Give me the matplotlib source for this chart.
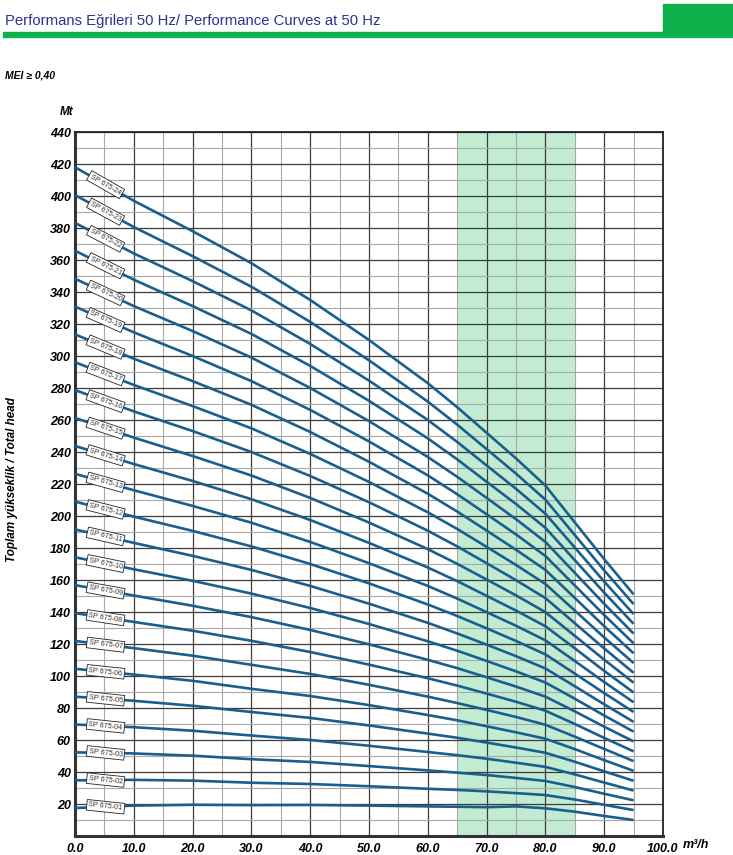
import numpy as np
import matplotlib
matplotlib.use("Agg")
import matplotlib.pyplot as plt
from matplotlib.patches import Rectangle

flow = [0, 10, 20, 30, 40, 50, 60, 65, 70, 75, 80, 85, 90, 95]

# total head (m) for each model, SP 675-01 ... SP 675-24
heads = {
    "01": [17.5, 19.0, 19.5, 19.3, 19.4, 19.0, 18.5, 18.3, 18.0, 18.5, 17.3, 15.2, 12.5, 10.0],
    "02": [34.8, 35.1, 34.6, 33.3, 32.5, 31.1, 29.5, 28.8, 27.9, 26.8, 25.6, 22.8, 19.5, 16.2],
    "03": [52.3, 51.6, 50.2, 48.0, 46.3, 43.7, 41.0, 39.6, 38.1, 36.3, 34.4, 30.6, 26.4, 22.3],
    "04": [69.7, 68.0, 65.8, 62.8, 60.0, 56.4, 52.5, 50.5, 48.3, 45.8, 43.2, 38.5, 33.4, 28.4],
    "05": [87.1, 84.5, 81.4, 77.5, 73.8, 69.1, 64.0, 61.4, 58.4, 55.3, 52.0, 46.4, 40.4, 34.5],
    "06": [104.5, 100.9, 97.0, 92.0, 87.5, 81.8, 75.6, 72.3, 68.6, 64.8, 60.8, 54.3, 47.4, 40.7],
    "07": [121.9, 117.4, 112.7, 107.0, 101.3, 94.5, 87.1, 83.1, 78.8, 74.4, 69.5, 62.1, 54.4, 46.8],
    "08": [139.3, 133.8, 128.3, 122.0, 115.0, 107.1, 98.6, 94.0, 89.0, 83.9, 78.3, 70.0, 61.3, 52.9],
    "09": [156.8, 150.3, 143.9, 136.8, 128.8, 119.8, 110.1, 104.9, 99.2, 93.4, 87.1, 77.9, 68.3, 59.1],
    "10": [174.2, 166.7, 159.5, 151.5, 142.5, 132.5, 121.7, 115.8, 109.4, 102.9, 95.9, 85.8, 75.3, 65.2],
    "11": [191.6, 183.2, 175.1, 166.3, 156.3, 145.2, 133.2, 126.6, 119.6, 112.4, 104.7, 93.6, 82.3, 71.3],
    "12": [209.0, 199.6, 190.7, 181.0, 170.0, 157.9, 144.7, 137.5, 129.8, 121.9, 113.5, 101.5, 89.3, 77.5],
    "13": [226.4, 216.1, 206.3, 195.8, 183.8, 170.5, 156.3, 148.4, 139.9, 131.4, 122.3, 109.4, 96.2, 83.6],
    "14": [243.8, 232.5, 221.9, 210.5, 197.5, 183.2, 167.8, 159.3, 150.1, 140.9, 131.1, 117.3, 103.2, 89.7],
    "15": [261.3, 249.0, 237.5, 225.3, 211.3, 195.9, 179.3, 170.1, 160.3, 150.4, 139.9, 125.1, 110.2, 95.8],
    "16": [278.7, 265.4, 253.1, 240.0, 225.0, 208.6, 190.8, 181.0, 170.5, 159.9, 148.7, 133.0, 117.2, 102.0],
    "17": [296.1, 281.9, 268.7, 254.8, 238.8, 221.3, 202.3, 191.9, 180.7, 169.4, 157.5, 140.9, 124.1, 108.1],
    "18": [313.5, 298.3, 284.3, 269.5, 252.5, 233.9, 213.9, 202.8, 190.9, 178.9, 166.3, 148.8, 131.1, 114.2],
    "19": [330.9, 314.8, 300.0, 284.3, 266.3, 246.6, 225.4, 213.6, 201.1, 188.5, 175.0, 156.6, 138.1, 120.4],
    "20": [348.3, 331.2, 315.6, 299.0, 280.0, 259.3, 236.9, 224.5, 211.3, 198.0, 183.8, 164.5, 145.1, 126.5],
    "21": [365.8, 347.7, 331.2, 313.8, 293.8, 272.0, 248.5, 235.4, 221.4, 207.5, 192.6, 172.4, 152.1, 132.6],
    "22": [383.2, 364.1, 346.8, 328.5, 307.5, 284.6, 260.0, 246.3, 231.6, 217.0, 201.4, 180.3, 159.0, 138.7],
    "23": [400.6, 380.6, 362.4, 343.3, 321.3, 297.3, 271.5, 257.1, 241.8, 226.5, 210.2, 188.1, 166.0, 144.9],
    "24": [418.0, 397.0, 378.0, 358.0, 335.0, 310.0, 283.0, 268.0, 252.0, 236.0, 219.0, 196.0, 173.0, 151.0],
}

band = (65, 85)          # recommended range, green
xticks = [0, 10, 20, 30, 40, 50, 60, 70, 80, 90, 100]
yticks = list(range(0, 441, 20))

curve_col = "#1a5e8e"
green = "#0db14b"
tick_font = ["Liberation Sans", "DejaVu Sans"]

fig = plt.figure(figsize=(7.33, 8.55), dpi=100)
ax = fig.add_axes([75/733, 19/855, 588/733, 704/855])

# header
fig.text(5/733, 1 - 21/855, "Performans Eğrileri 50 Hz/ Performance Curves at 50 Hz",
         fontsize=10.7, color="#2e3192", family=tick_font, va="center")
fig.patches.append(Rectangle((3/733, 1 - 37/855), 660/733, 5/855, transform=fig.transFigure,
                             color=green, zorder=0))
fig.patches.append(Rectangle((663/733, 1 - 37/855), 70/733, 33/855, transform=fig.transFigure,
                             color=green, zorder=0))
fig.text(5/733, 1 - 75/855, "MEI ≥ 0,40", fontsize=7.5, fontweight="bold", style="italic",
         family=tick_font, va="center")
fig.text(60/733, 1 - 112/855, "Mt", fontsize=8.5, fontweight="bold", style="italic",
         family=tick_font, va="center")
fig.text(12/733, 1 - 480/855, "Toplam yükseklik / Total head", fontsize=8.5, fontweight="bold",
         style="italic", family=tick_font, rotation=90, va="center", ha="center")
fig.text(683/733, 1 - 845/855, "m³/h", fontsize=9, fontweight="bold", style="italic",
         family=tick_font, va="center")

ax.axvspan(band[0], band[1], color="#c2ecd2", zorder=0, lw=0)

ax.set_xlim(0, 100)
ax.set_ylim(0, 440)
ax.set_xticks(xticks)
ax.set_xticklabels(["%.1f" % v for v in xticks])
ax.set_yticks(yticks)
ax.set_yticklabels(["" if v == 0 else str(v) for v in yticks])
ax.set_xticks(np.arange(5, 100, 10), minor=True)
ax.set_yticks(np.arange(10, 440, 20), minor=True)
ax.grid(which="major", color="#3c3c3c", lw=0.9, zorder=1)
ax.grid(which="minor", color="#a8a8a8", lw=0.8, zorder=1)
ax.set_axisbelow(True)
ax.tick_params(which="both", length=0)
ax.tick_params(axis="x", pad=5)
ax.tick_params(axis="y", pad=3)
for lab in ax.get_xticklabels() + ax.get_yticklabels():
    lab.set_fontfamily(tick_font)
    lab.set_fontweight("bold")
    lab.set_fontstyle("italic")
    lab.set_fontsize(9)

for s in ["top", "right"]:
    ax.spines[s].set_linewidth(1.3)
    ax.spines[s].set_color("#222222")
for s in ["left", "bottom"]:
    ax.spines[s].set_linewidth(2.2)
    ax.spines[s].set_color("#333333")

fig.canvas.draw()
for key, h in heads.items():
    ax.plot(flow, h, color=curve_col, lw=1.9, zorder=3, solid_capstyle="butt")
    # label rotated along the start of the curve
    p0 = ax.transData.transform((flow[0], h[0]))
    p1 = ax.transData.transform((flow[1], h[1]))
    ang = np.degrees(np.arctan2(p1[1] - p0[1], p1[0] - p0[0]))
    ang = min(ang, -6)
    yl = h[0] + (h[1] - h[0]) * 0.52
    ax.text(5.2, yl, "SP 675-" + key, fontsize=5.2, rotation=ang, rotation_mode="anchor",
            ha="center", va="center", color="#333333", zorder=4,
            family=tick_font,
            bbox=dict(boxstyle="square,pad=0.25", fc="white", ec="#222222", lw=0.6))

fig.savefig("out.png", dpi=100)
